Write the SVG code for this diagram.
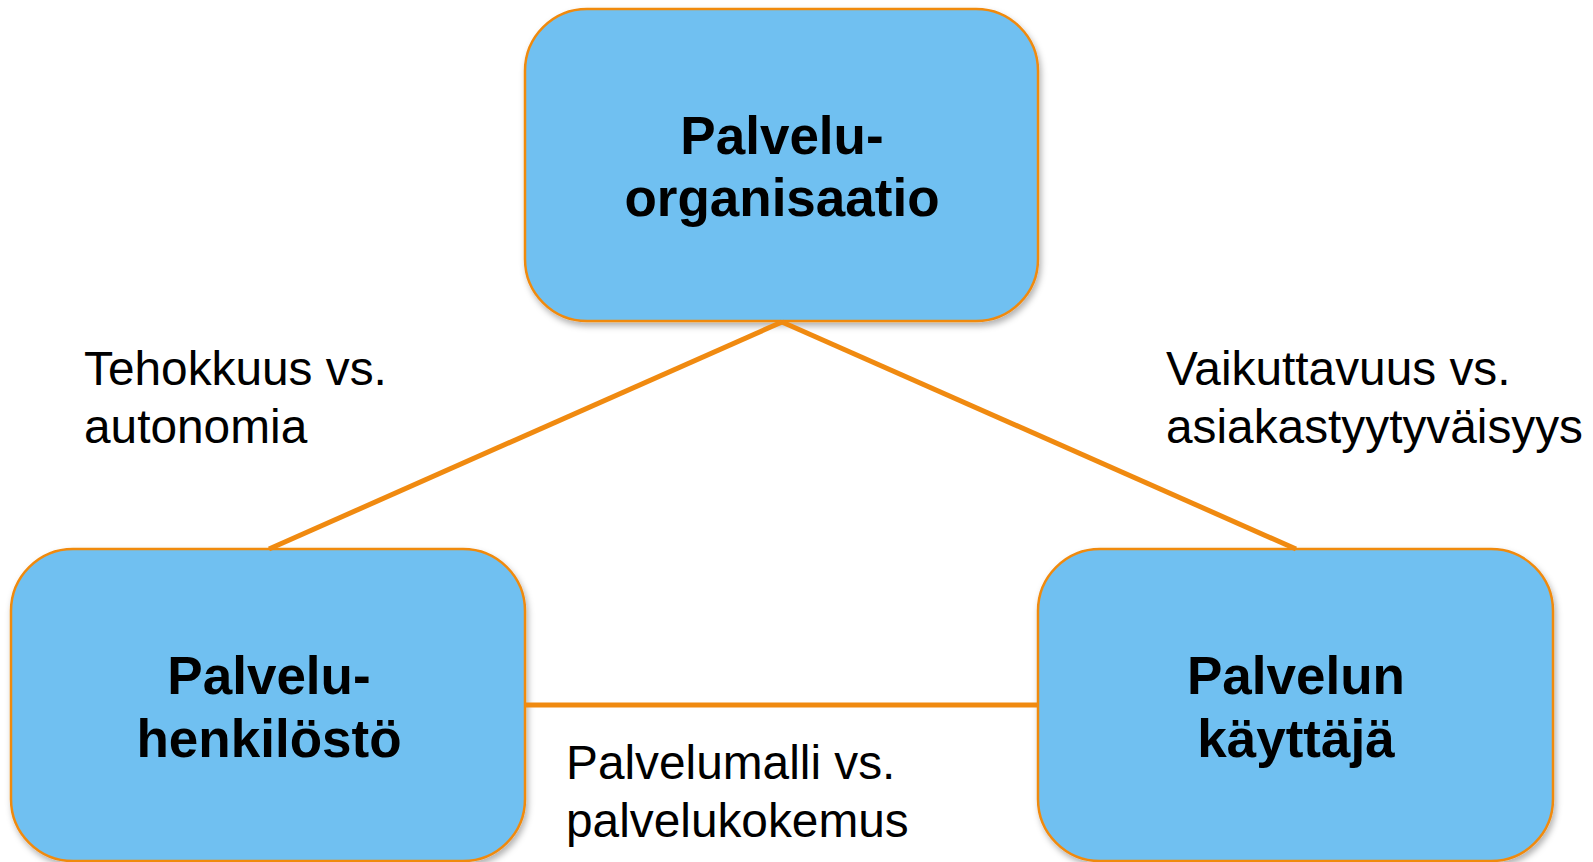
<svg xmlns="http://www.w3.org/2000/svg" width="1593" height="862" viewBox="0 0 1593 862">
  <style>
    .box { fill: #6FC0F1; stroke: #F08A10; stroke-width: 2.5; filter: url(#sh); }
    .title { font-family: "Liberation Sans", Arial, sans-serif; font-weight: bold; font-size: 53px; fill: #000; text-anchor: middle; }
    .label { font-family: "Liberation Sans", Arial, sans-serif; font-size: 47.8px; fill: #000; }
    .conn { stroke: #F08A10; stroke-width: 5; fill: none; stroke-linecap: butt; }
  </style>
  <defs>
    <filter id="sh" x="-10%" y="-10%" width="125%" height="125%">
      <feDropShadow dx="2" dy="4" stdDeviation="3" flood-color="#000" flood-opacity="0.3"/>
    </filter>
  </defs>
  <rect width="1593" height="862" fill="#fff"/>
  <g id="node-organisaatio">
    <rect class="box" x="525" y="9" width="513" height="312" rx="62" ry="62"/>
    <text class="title" x="782" y="154">Palvelu-</text>
    <text class="title" x="782" y="216">organisaatio</text>
  </g>
  <g id="node-henkilosto">
    <rect class="box" x="11" y="549" width="514" height="312" rx="62" ry="62"/>
    <text class="title" x="269" y="694">Palvelu-</text>
    <text class="title" x="269" y="757">henkilöstö</text>
  </g>
  <g id="node-kayttaja">
    <rect class="box" x="1038" y="549" width="515" height="312" rx="62" ry="62"/>
    <text class="title" x="1296" y="694">Palvelun</text>
    <text class="title" x="1296" y="757">käyttäjä</text>
  </g>
  <g id="connectors">
    <line class="conn" x1="782" y1="322" x2="269" y2="549"/>
    <line class="conn" x1="782" y1="322" x2="1296" y2="549"/>
    <line class="conn" x1="525" y1="705" x2="1038" y2="705"/>
  </g>
  <g id="labels">
    <text class="label" x="84" y="385">Tehokkuus vs.</text>
    <text class="label" x="84" y="443">autonomia</text>
    <text class="label" x="1166" y="385">Vaikuttavuus vs.</text>
    <text class="label" x="1166" y="443">asiakastyytyväisyys</text>
    <text class="label" x="566" y="779">Palvelumalli vs.</text>
    <text class="label" x="566" y="837">palvelukokemus</text>
  </g>
</svg>
